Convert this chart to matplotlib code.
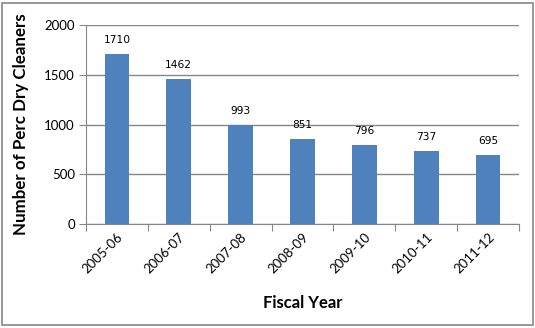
import matplotlib
matplotlib.use("Agg")
import matplotlib.pyplot as plt
from matplotlib.patches import Rectangle

years = ["2005-06", "2006-07", "2007-08", "2008-09", "2009-10", "2010-11", "2011-12"]
cleaners = [1710, 1462, 993, 851, 796, 737, 695]
y_ticks = [0, 500, 1000, 1500, 2000]

bar_color = "#4F81BD"
grid_color = "#868686"

fig = plt.figure(figsize=(5.35, 3.28), dpi=100)
ax = fig.add_axes([86 / 535, 1 - 224 / 328, (519 - 86) / 535, (224 - 25) / 328])

x = list(range(len(years)))
bars = ax.bar(x, cleaners, width=0.4, color=bar_color, zorder=3)

for xi, v in zip(x, cleaners):
    ax.annotate(str(v), (xi, v), xytext=(0, 6.5), textcoords="offset points",
                ha="center", va="bottom", fontsize=7.7, family="DejaVu Sans")

ax.set_xlim(-0.5, len(years) - 0.5)
ax.set_ylim(0, 2000)
ax.set_yticks(y_ticks)
ax.set_yticklabels([str(t) for t in y_ticks], family="Lato", fontsize=9.5)
ax.yaxis.grid(True, color=grid_color, linewidth=1, zorder=0)
ax.set_axisbelow(True)

# Category-boundary tick marks on the x axis
ax.set_xticks([i - 0.5 for i in range(len(years) + 1)])
ax.set_xticklabels([])
ax.set_xticks(x, minor=True)
ax.set_xticklabels(years, minor=True, rotation=45, ha="right", va="top",
                   rotation_mode="anchor", family="Lato", fontsize=9.5)
ax.tick_params(axis="x", which="minor", length=0, pad=5)
ax.tick_params(axis="x", which="major", length=5, color=grid_color)
ax.tick_params(axis="y", length=5, color=grid_color, pad=3)

for side in ("top", "right"):
    ax.spines[side].set_visible(False)
for side in ("left", "bottom"):
    ax.spines[side].set_color(grid_color)

ax.set_ylabel("Number of Perc Dry Cleaners", family="Lato", fontweight="bold",
              fontsize=12.2)
ax.set_xlabel("Fiscal Year", family="Lato", fontweight="bold", fontsize=12)
ax.yaxis.set_label_coords(-(86 - 29) / 433, 0.5)
ax.xaxis.set_label_coords(0.5, -(295 - 224) / (224 - 25))

fig.patches.append(Rectangle((2 / 535, 3 / 328), 531 / 535, 322 / 328,
                             transform=fig.transFigure, fill=False,
                             edgecolor=grid_color, linewidth=1.2))

fig.savefig("out.png", dpi=100)
